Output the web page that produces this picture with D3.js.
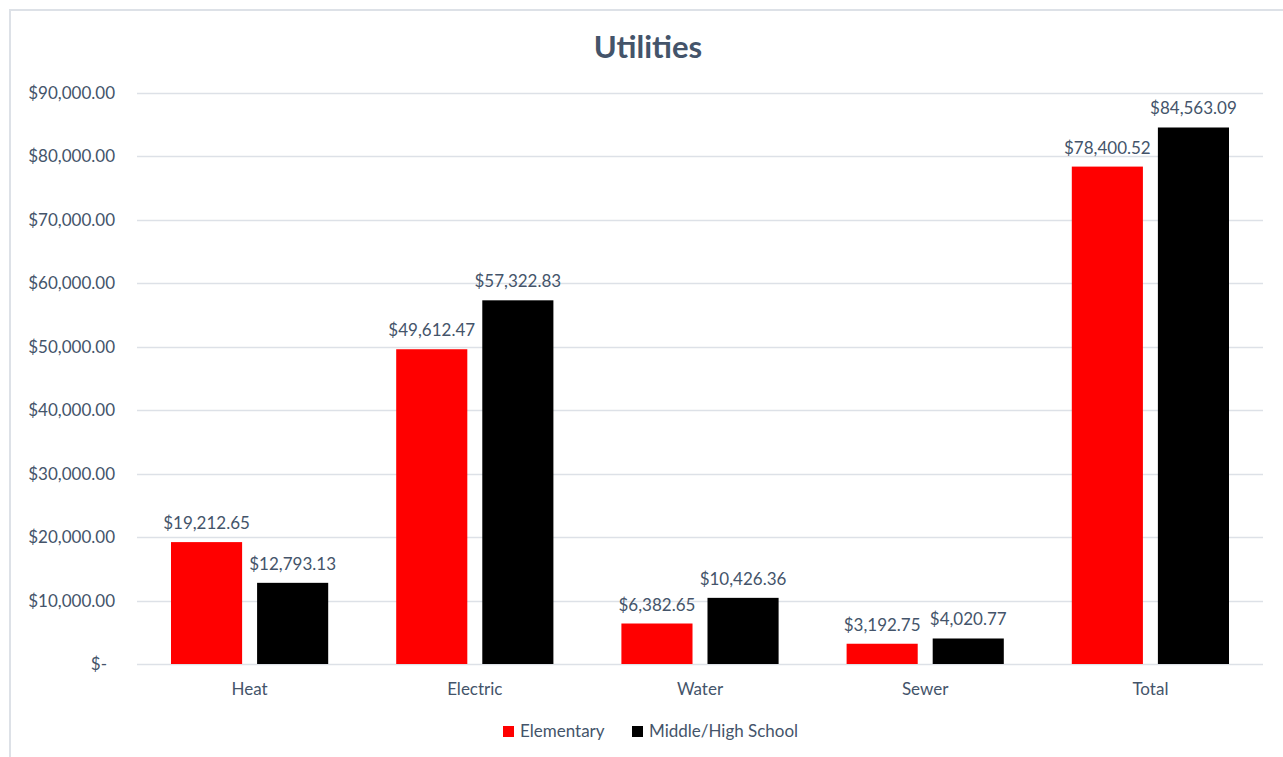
<!DOCTYPE html>
<html lang="en">
<head>
    <meta charset="UTF-8">
    <title>Utilities</title>
    <style>
        body {
            margin: 0;
            background: #ffffff;
            overflow: hidden;
        }
        svg text {
            font-family: Lato, "Open Sans", sans-serif;
            fill: #44546A;
        }
    </style>
</head>
<body>
    <svg id="chart" width="1283" height="757"></svg>
    <script src="https://d3js.org/d3.v7.min.js"></script>
    <script>
        // chart data
        const categories = ["Heat", "Electric", "Water", "Sewer", "Total"];
        const seriesNames = ["Elementary", "Middle/High School"];
        const elementary = [19212.65, 49612.47, 6382.65, 3192.75, 78400.52];
        const middleHigh = [12793.13, 57322.83, 10426.36, 4020.77, 84563.09];
        const yTicks = [0, 10000, 20000, 30000, 40000, 50000, 60000, 70000, 80000, 90000];
        const colors = ["#FF0000", "#000000"];

        const svg = d3.select("#chart");

        // chart frame (right edge is off screen in the reference)
        svg.append("rect")
            .attr("x", 10).attr("y", 10)
            .attr("width", 1285).attr("height", 760)
            .attr("fill", "none")
            .attr("stroke", "#DDE1E7")
            .attr("stroke-width", 2);

        const plot = { left: 137, right: 1263, top: 93, bottom: 664 };

        const x = d3.scaleBand()
            .domain(categories)
            .range([plot.left, plot.right]);

        const x1 = d3.scaleBand()
            .domain(seriesNames)
            .range([34, x.bandwidth() - 34])
            .paddingInner(0.174);

        const y = d3.scaleLinear()
            .domain([0, 90000])
            .range([plot.bottom, plot.top]);

        // gridlines
        svg.append("g")
            .selectAll("line")
            .data(yTicks)
            .join("line")
            .attr("x1", plot.left).attr("x2", plot.right)
            .attr("y1", d => Math.round(y(d)) + 0.5)
            .attr("y2", d => Math.round(y(d)) + 0.5)
            .attr("stroke", "#DDE1E7")
            .attr("stroke-width", 1.5);

        const fmt = d3.format(",.2f");
        const money = v => "$" + fmt(v);

        // y axis labels
        svg.append("g")
            .selectAll("text")
            .data(yTicks)
            .join("text")
            .attr("x", d => d === 0 ? 107 : 115)
            .attr("y", d => y(d))
            .attr("dy", "0.35em")
            .attr("text-anchor", "end")
            .style("font-size", "17px")
            .text(d => d === 0 ? "$-" : money(d));

        // x axis labels
        svg.append("g")
            .selectAll("text")
            .data(categories)
            .join("text")
            .attr("x", d => x(d) + x.bandwidth() / 2)
            .attr("y", 695)
            .attr("text-anchor", "middle")
            .style("font-size", "17px")
            .text(d => d);

        const rows = categories.map((c, i) => ({
            cat: c,
            vals: [
                { s: seriesNames[0], v: elementary[i], c: colors[0] },
                { s: seriesNames[1], v: middleHigh[i], c: colors[1] }
            ]
        }));

        const groups = svg.append("g")
            .selectAll("g")
            .data(rows)
            .join("g")
            .attr("transform", d => `translate(${x(d.cat)},0)`);

        groups.selectAll("rect")
            .data(d => d.vals)
            .join("rect")
            .attr("x", d => x1(d.s))
            .attr("y", d => y(d.v))
            .attr("width", x1.bandwidth())
            .attr("height", d => y(0) - y(d.v))
            .attr("fill", d => d.c);

        groups.selectAll("text")
            .data(d => d.vals)
            .join("text")
            .attr("x", d => x1(d.s) + x1.bandwidth() / 2)
            .attr("y", d => y(d.v) - 13)
            .attr("text-anchor", "middle")
            .style("font-size", "17px")
            .text(d => money(d.v));

        // title
        svg.append("text")
            .attr("x", 648)
            .attr("y", 58)
            .attr("text-anchor", "middle")
            .style("font-size", "31px")
            .style("font-weight", "bold")
            .text("Utilities");

        // legend
        const legendX = [503, 632];
        const legend = svg.append("g")
            .selectAll("g")
            .data(seriesNames)
            .join("g")
            .attr("transform", (d, i) => `translate(${legendX[i]},726)`);

        legend.append("rect")
            .attr("width", 11).attr("height", 11)
            .attr("fill", (d, i) => colors[i]);

        legend.append("text")
            .attr("x", 17)
            .attr("y", 5.5)
            .attr("dy", "0.35em")
            .style("font-size", "17px")
            .text(d => d);
    </script>
</body>
</html>
